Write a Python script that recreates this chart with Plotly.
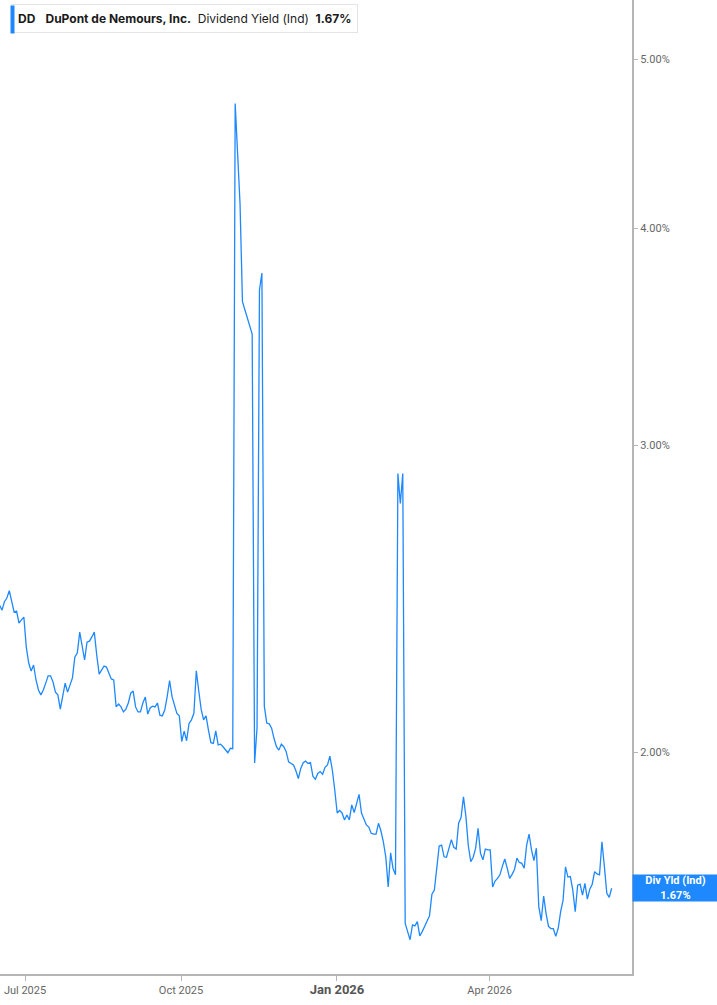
import numpy as np
import pandas as pd
import plotly.graph_objects as go

# ---- data (dividend yield, %) ----
first_date = "2025-06-16"
last_date = "2026-06-12"
yield_pct = [
    2.429, 2.413, 2.440, 2.452, 2.476, 2.446, 2.407, 2.410, 2.372, 2.382,
    2.391, 2.298, 2.250, 2.226, 2.244, 2.200, 2.171, 2.157, 2.171, 2.191,
    2.212, 2.212, 2.194, 2.165, 2.157, 2.117, 2.151, 2.191, 2.165, 2.185,
    2.206, 2.268, 2.280, 2.344, 2.304, 2.259, 2.313, 2.316, 2.329, 2.344,
    2.274, 2.217, 2.229, 2.241, 2.238, 2.220, 2.203, 2.200, 2.123, 2.131,
    2.123, 2.109, 2.117, 2.134, 2.162, 2.168, 2.123, 2.109, 2.109, 2.134,
    2.151, 2.103, 2.120, 2.125, 2.123, 2.134, 2.100, 2.098, 2.114, 2.152,
    2.198, 2.152, 2.128, 2.105, 2.098, 2.028, 2.056, 2.030, 2.077, 2.087,
    2.105, 2.227, 2.169, 2.116, 2.087, 2.098, 2.059, 2.025, 2.023, 2.057,
    2.019, 2.021, 2.014, 2.005, 1.998, 2.010, 2.009, 4.717, 4.420, 4.130,
    3.630, 3.590, 3.552, 3.519, 3.477, 1.971, 2.065, 3.686, 3.770, 2.125,
    2.078, 2.076, 2.064, 2.036, 2.014, 2.005, 2.021, 2.014, 2.001, 1.974,
    1.970, 1.966, 1.951, 1.931, 1.957, 1.972, 1.976, 1.970, 1.972, 1.937,
    1.929, 1.944, 1.949, 1.942, 1.960, 1.966, 1.989, 1.953, 1.902, 1.845,
    1.851, 1.845, 1.828, 1.840, 1.828, 1.865, 1.846, 1.869, 1.891, 1.845,
    1.828, 1.816, 1.811, 1.796, 1.794, 1.794, 1.820, 1.802, 1.776, 1.741,
    1.673, 1.750, 1.714, 1.700, 2.891, 2.779, 2.891, 1.594, 1.577, 1.560,
    1.591, 1.589, 1.598, 1.568, 1.577, 1.588, 1.598, 1.610, 1.657, 1.666,
    1.715, 1.766, 1.768, 1.741, 1.740, 1.764, 1.781, 1.763, 1.759, 1.820,
    1.834, 1.885, 1.836, 1.766, 1.730, 1.740, 1.761, 1.808, 1.749, 1.734,
    1.759, 1.757, 1.757, 1.673, 1.686, 1.692, 1.700, 1.719, 1.736, 1.715,
    1.692, 1.701, 1.712, 1.738, 1.728, 1.726, 1.715, 1.768, 1.794, 1.757,
    1.732, 1.761, 1.630, 1.600, 1.653, 1.615, 1.588, 1.583, 1.583, 1.567,
    1.584, 1.619, 1.644, 1.718, 1.695, 1.696, 1.666, 1.619, 1.677, 1.679,
    1.655, 1.681, 1.646, 1.668, 1.679, 1.707, 1.702, 1.700, 1.776, 1.719,
    1.659, 1.650, 1.670,
]
tick_dates = ["2025-07-01", "2025-10-01", "2026-01-01", "2026-04-01"]
tick_labels = ["Jul 2025", "Oct 2025",
               "<b><span style='font-size:13px;color:#555'>Jan 2026</span></b>",
               "Apr 2026"]
y_ticks = [2.0, 3.0, 4.0, 5.0]
y_tick_labels = ["2.00%", "3.00%", "4.00%", "5.00%"]
last_value = 1.67

dates = pd.date_range(first_date, last_date, periods=len(yield_pct))

LINE = "#1e88ff"
fig = go.Figure()
fig.add_trace(go.Scatter(
    x=dates, y=yield_pct, mode="lines",
    line=dict(color=LINE, width=1.3),
    hoverinfo="skip", showlegend=False,
))

W, H = 717, 1005
plot_w, plot_h = 632, 974

fig.update_layout(
    width=W, height=H,
    margin=dict(l=0, r=W - plot_w, t=0, b=H - plot_h),
    paper_bgcolor="white", plot_bgcolor="white",
    font=dict(family="Roboto, Inter, sans-serif", color="#666666", size=11),
    xaxis=dict(
        range=["2025-06-16 06:00", "2026-06-24"],
        tickvals=tick_dates, ticktext=tick_labels,
        showgrid=False, zeroline=False,
        showline=True, linecolor="#b5b5b5", linewidth=2,
        ticks="outside", ticklen=5, tickcolor="#b5b5b5", tickwidth=1,
        tickfont=dict(size=11, color="#666666"),
    ),
    yaxis=dict(
        type="log", side="right",
        range=[0.17345, 0.73322],
        tickvals=y_ticks, ticktext=y_tick_labels,
        showgrid=False, zeroline=False,
        showline=True, linecolor="#b5b5b5", linewidth=2,
        ticks="outside", ticklen=4, tickcolor="#b5b5b5",
        tickfont=dict(size=11, color="#666666"),
    ),
)

# header box
fig.add_annotation(
    xref="paper", yref="paper", x=11 / plot_w, y=1 - 4 / plot_h,
    xanchor="left", yanchor="top", showarrow=False, align="left",
    text=("<b>DD</b>&nbsp;&nbsp;&nbsp;<b>DuPont de Nemours, Inc.</b>&nbsp;&nbsp;"
          "Dividend Yield (Ind)&nbsp;&nbsp;<b>1.67%</b>"),
    font=dict(family="Inter, Roboto, sans-serif", size=12, color="#1a1a1a"),
    bgcolor="white", bordercolor="#e4e4e4", borderwidth=1, borderpad=6,
)
# blue accent bar on the header box
fig.add_annotation(
    xref="paper", yref="paper", x=10 / plot_w, y=1 - 5 / plot_h,
    xanchor="left", yanchor="top", showarrow=False,
    text=" ", bgcolor=LINE, width=3, height=27, borderpad=0,
    font=dict(size=1),
)

# last value label on right
fig.add_annotation(
    xref="paper", yref="y", x=1, y=np.log10(last_value),
    xanchor="left", yanchor="middle", showarrow=False, align="center",
    text="<b>Div Yld (Ind)</b><br><b>1.67%</b>",
    font=dict(family="Roboto, Inter, sans-serif", size=11, color="white"),
    bgcolor=LINE, borderpad=0, width=W - plot_w, height=26,
)

fig.write_html("out.html", config={"displayModeBar": False},
               post_script="document.body.style.margin='0';")
